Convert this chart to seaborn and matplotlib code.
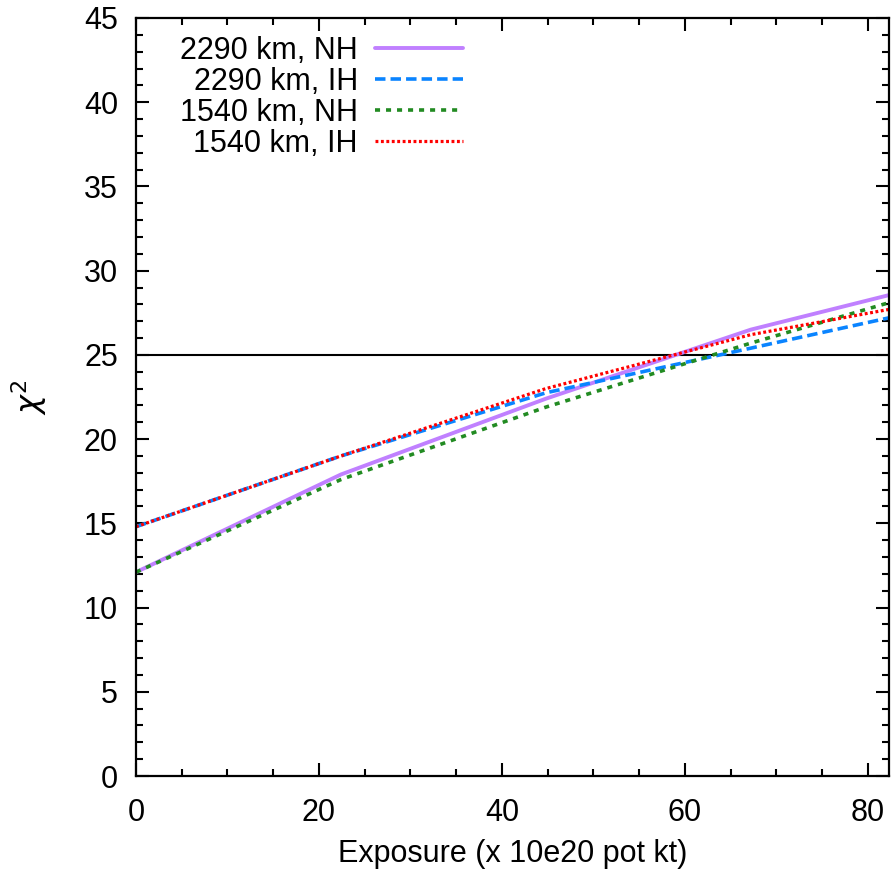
import numpy as np
import pandas as pd
import matplotlib
matplotlib.use("Agg")
import matplotlib.pyplot as plt
import seaborn as sns

exposure = [0.0, 22.4, 44.8, 67.2, 82.3]
chi2_2290_nh = [12.1, 17.9, 22.4, 26.5, 28.55]
chi2_2290_ih = [14.8, 19.0, 22.75, 25.4, 27.2]
chi2_1540_nh = [12.1, 17.6, 21.9, 25.7, 28.1]
chi2_1540_ih = [14.8, 19.0, 23.0, 26.2, 27.7]
labels = ["2290 km, NH", "2290 km, IH", "1540 km, NH", "1540 km, IH"]
threshold = 25

sns.set_theme(style="ticks")
plt.rcParams['font.family'] = ['Liberation Sans', 'DejaVu Sans']
plt.rcParams['text.color'] = 'black'
plt.rcParams['axes.labelcolor'] = 'black'
plt.rcParams['xtick.color'] = 'black'
plt.rcParams['ytick.color'] = 'black'

fig = plt.figure(figsize=(8.94, 8.71), dpi=100)
ax = fig.add_axes([136/894, 1-776/871, (889-136)/894, (776-18)/871])

series = [chi2_2290_nh, chi2_2290_ih, chi2_1540_nh, chi2_1540_ih]
colors = ["#c080ff", "#0a84ff", "#228b22", "#ff0000"]
styles = ["-", (0, (2.9, 1.4)), (0, (1.4, 1.65)), (0, (0.9, 0.8))]
widths = [2.8, 2.6, 2.6, 2.3]

for vals, lab, c, ls, lw in zip(series, labels, colors, styles, widths):
    df = pd.DataFrame({"x": exposure, "y": vals})
    sns.lineplot(data=df, x="x", y="y", ax=ax, color=c, linestyle=ls,
                 linewidth=lw, label=lab)

ax.axhline(threshold, color="black", lw=1.5, zorder=1)

ax.set_xlim(0, 82.3)
ax.set_ylim(0, 45)
ax.set_xticks([0, 20, 40, 60, 80])
ax.set_xticks(np.arange(0, 83, 5), minor=True)
ax.set_yticks(np.arange(0, 46, 5))
ax.set_yticks(np.arange(0, 46, 1), minor=True)
ax.tick_params(which="both", direction="in", top=True, right=True,
               width=1.5, color="black", labelsize=22, pad=13,
               labelcolor="black")
ax.tick_params(axis="x", which="both", pad=16)
ax.tick_params(which="major", length=9.5)
ax.tick_params(which="minor", length=5)
for s in ax.spines.values():
    s.set_linewidth(1.6)
    s.set_color("black")

ax.set_xlabel("Exposure (x 10e20 pot kt)", fontsize=22, labelpad=8, color="black")
ax.set_ylabel(r"$\chi^2$", fontsize=23, color="black")
ax.yaxis.set_label_coords(-0.115, 0.5)

leg = ax.legend(loc="upper left", bbox_to_anchor=(0.0584, 0.976), markerfirst=False,
                frameon=False, fontsize=22, handlelength=2.88, handletextpad=0.55,
                labelspacing=0.03, borderaxespad=0.0, borderpad=0.0)
for t in leg.get_texts():
    t.set_color("black")

fig.savefig("out.png", dpi=100)
